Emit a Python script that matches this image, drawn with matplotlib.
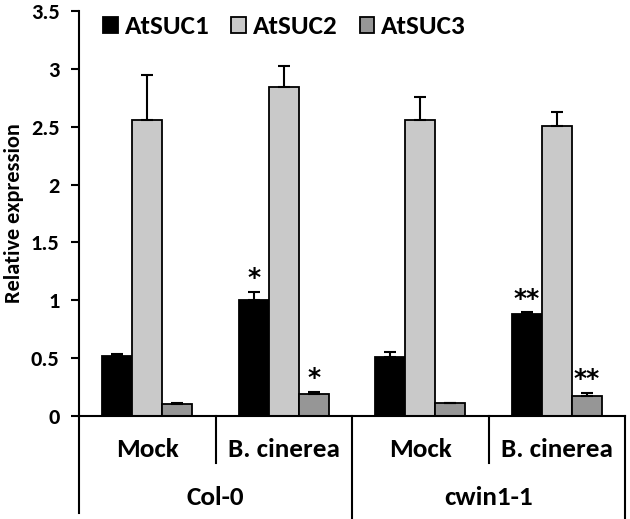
import matplotlib.pyplot as plt
import numpy as np

genotypes = ["Col-0", "cwin1-1"]
treatments = ["Mock", "B. cinerea", "Mock", "B. cinerea"]
series = ["AtSUC1", "AtSUC2", "AtSUC3"]

suc1 = [0.52, 1.00, 0.51, 0.88]
suc1_err = [0.02, 0.07, 0.04, 0.015]
suc2 = [2.56, 2.84, 2.56, 2.51]
suc2_err = [0.39, 0.19, 0.20, 0.12]
suc3 = [0.10, 0.19, 0.115, 0.175]
suc3_err = [0.015, 0.015, 0.0, 0.02]

suc1_marks = ["", "*", "", "**"]
suc2_marks = ["", "", "", ""]
suc3_marks = ["", "*", "", "**"]

colors = ["#000000", "#c9c9c9", "#969696"]

FONT = 'Carlito'
plt.rcParams['font.family'] = FONT

fig = plt.figure(figsize=(6.3, 5.19), dpi=100)
ax = fig.add_axes([0.1254, 0.1985, 0.8667, 0.780])

x = np.arange(len(treatments))
w = 0.22
values = [suc1, suc2, suc3]
errors = [suc1_err, suc2_err, suc3_err]
marks = [suc1_marks, suc2_marks, suc3_marks]

for i, (vals, errs, mk) in enumerate(zip(values, errors, marks)):
    pos = x + (i - 1) * w
    ax.bar(pos, vals, width=w, color=colors[i], edgecolor='black',
           linewidth=1.3, label=series[i], zorder=2)
    ax.errorbar(pos, vals, yerr=[np.zeros(len(errs)), errs], fmt='none',
                ecolor='black', elinewidth=1.5, capsize=4, capthick=1.5, zorder=3)
    for p, v, e, m in zip(pos, vals, errs, mk):
        if m:
            # dejavu asterisks pack tightly, like the original
            ax.annotate(m, (p, v + e), xytext=(0, 5), textcoords='offset points',
                        ha='center', va='baseline', fontsize=18,
                        family='DejaVu Sans', weight='bold')

ax.set_xlim(-0.5, 3.5)
ax.set_ylim(0, 3.5)
ax.set_yticks(np.arange(0, 3.51, 0.5))
ax.set_yticklabels(["0", "0.5", "1", "1.5", "2", "2.5", "3", "3.5"],
                   family=FONT, weight='bold', fontsize=16)
ax.tick_params(axis='y', width=1.5, length=6, direction='out', pad=8)
ax.tick_params(axis='x', bottom=False, labelbottom=False)
ax.spines['top'].set_visible(False)
ax.spines['right'].set_visible(False)
ax.spines['left'].set_linewidth(1.5)
ax.spines['bottom'].set_linewidth(1.5)
ax.set_ylabel("Relative expression", family=FONT, fontsize=16, weight='bold', labelpad=5)

# category separators below the axis
trans = ax.get_xaxis_transform()
ax.plot([-0.5, -0.5], [0, -0.2395], transform=trans, color='black', lw=1.5, clip_on=False)
for xs, bottom in [(0.5, -0.116), (1.5, -0.254), (2.5, -0.116), (3.5, -0.254)]:
    ax.plot([xs, xs], [0, bottom], transform=trans, color='black', lw=1.5, clip_on=False)

for xi, t in zip(x, treatments):
    ax.text(xi, -0.084, t, transform=trans, ha='center', va='center',
            family=FONT, fontsize=19.5, weight='bold')
for gi, g in enumerate(genotypes):
    ax.text(2 * gi + 0.5, -0.2025, g, transform=trans, ha='center', va='center',
            family=FONT, fontsize=19.5, weight='bold')

leg = ax.legend(loc='upper left', bbox_to_anchor=(0.0, 1.05), ncol=3, frameon=False,
                handlelength=0.55, handleheight=0.55, handletextpad=0.25,
                columnspacing=0.8, prop={'family': FONT, 'size': 19.5, 'weight': 'bold'})

fig.savefig("out.png", dpi=100)
